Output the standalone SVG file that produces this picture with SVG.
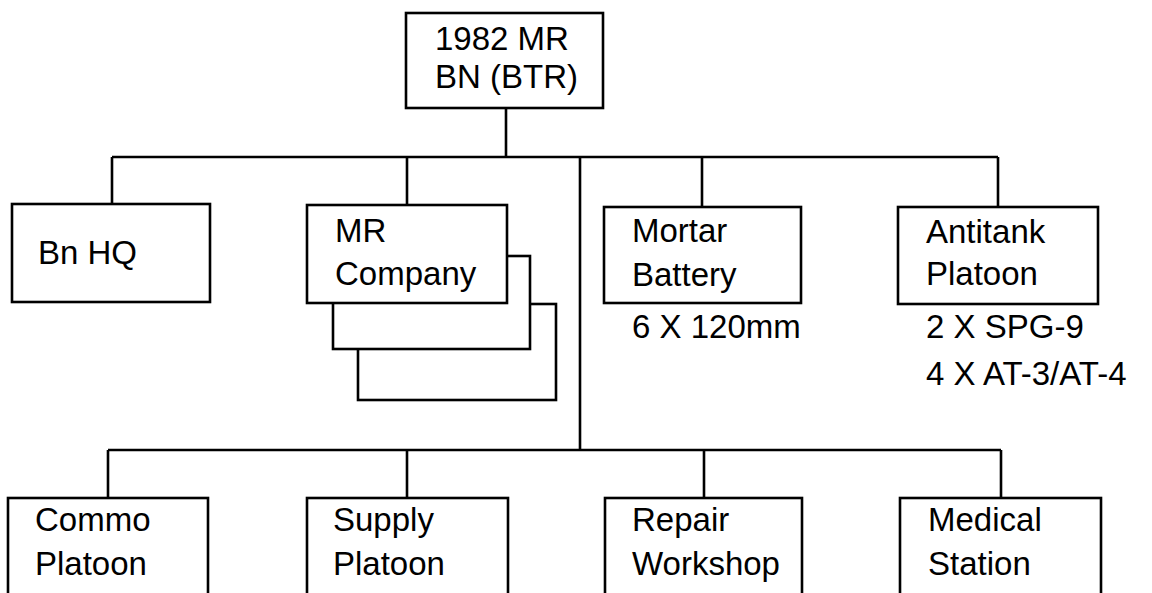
<svg xmlns="http://www.w3.org/2000/svg" width="1152" height="593" viewBox="0 0 1152 593">
<style>
.box{fill:#fff;stroke:#000;stroke-width:2.6}
.ln{fill:none;stroke:#000;stroke-width:2.6}
text{font-family:"Liberation Sans",Arial,sans-serif;font-size:33px;fill:#000}
</style>
<rect width="1152" height="593" fill="#fff"/>
<g id="connectors" class="ln">
<path class="ln" d="M506 108V157M112 157H998M112 157V204M407 157V205M702 157V207M998 157V207M580 157V450M108 450H1001M108 450V498M407 450V498M704 450V498M1001 450V498"/>
</g>
<g id="n-bn"><rect class="box" x="406" y="13" width="197" height="95"/><text x="435" y="50">1982 MR</text><text x="435" y="88">BN (BTR)</text></g>
<g id="n-hq"><rect class="box" x="12" y="204" width="198" height="98"/><text x="38" y="264">Bn HQ</text></g>
<g id="n-mr">
<rect class="box" x="358" y="304" width="198" height="96"/>
<rect class="box" x="333" y="256" width="197" height="93"/>
<rect class="box" x="307" y="205" width="200" height="98"/>
<text x="335" y="242">MR</text><text x="335" y="285">Company</text></g>
<g id="n-mortar"><rect class="box" x="604" y="207" width="197" height="96"/><text x="632" y="242">Mortar</text><text x="632" y="286">Battery</text><text x="632" y="338">6 X 120mm</text></g>
<g id="n-at"><rect class="box" x="898" y="207" width="200" height="97"/><text x="926" y="243">Antitank</text><text x="926" y="285">Platoon</text><text x="926" y="338">2 X SPG-9</text><text x="926" y="385">4 X AT-3/AT-4</text></g>
<g id="n-commo"><rect class="box" x="8" y="498" width="200" height="110"/><text x="35" y="531">Commo</text><text x="35" y="575">Platoon</text></g>
<g id="n-supply"><rect class="box" x="307" y="498" width="201" height="110"/><text x="333" y="531">Supply</text><text x="333" y="575">Platoon</text></g>
<g id="n-repair"><rect class="box" x="605" y="498" width="197" height="110"/><text x="632" y="531">Repair</text><text x="632" y="575">Workshop</text></g>
<g id="n-medical"><rect class="box" x="900" y="498" width="201" height="110"/><text x="928" y="531">Medical</text><text x="928" y="575">Station</text></g>
</svg>
